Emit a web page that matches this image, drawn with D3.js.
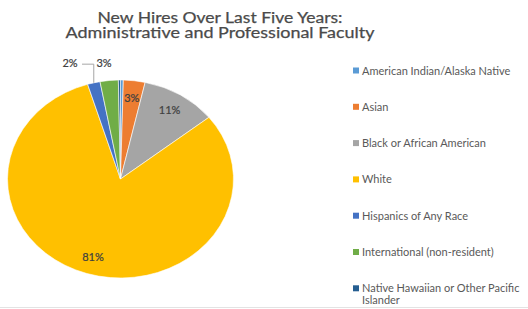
<!DOCTYPE html>
<html><head><meta charset="utf-8">
<script src="https://cdn.jsdelivr.net/npm/d3@7"></script>
<style>html,body{margin:0;padding:0;background:#fff;}svg{display:block;}</style>
</head><body>
<svg id="c" width="528" height="309"></svg>
<script>
const titleLines = ["New Hires Over Last Five Years:", "Administrative and Professional Faculty"];
const categories = ["American Indian/Alaska Native", "Asian", "Black or African American", "White", "Hispanics of Any Race", "International (non-resident)", "Native Hawaiian or Other Pacific Islander"];
const values = [0.4, 3.1, 10.8, 81.0, 1.8, 2.6, 0.3];
const colors = ["#5b9bd5", "#ed7d31", "#a5a5a5", "#ffc000", "#4472c4", "#70ad47", "#255e91"];
const insideLabel = [false, true, true, true, false, false, false];
const outsideLabel = [false, false, false, false, true, true, false];

const svg = d3.select("#c");
const W = 528, H = 309;
svg.append("rect").attr("width", W).attr("height", H).attr("fill", "#fff");
svg.append("line").attr("x1", 0).attr("x2", W).attr("y1", 307.5).attr("y2", 307.5).attr("stroke", "#e3e3e3").attr("stroke-width", 1);

// Title (one text element, two lines)
const titleWidths = [245, 309];
const title = svg.append("text")
  .attr("text-anchor", "middle")
  .attr("font-family", "Lato, 'Open Sans', sans-serif")
  .attr("font-size", 15.5).attr("font-weight", 400)
  .attr("fill", "#4a4a4a")
  .attr("stroke", "#4a4a4a").attr("stroke-width", 0.25);
title.selectAll("tspan").data(titleLines).join("tspan")
  .attr("x", 220).attr("y", (d, i) => 23 + i * 15)
  .attr("textLength", (d, i) => titleWidths[i]).attr("lengthAdjust", "spacingAndGlyphs")
  .text(d => d);

// Pie (slightly elliptical, as in reference)
const cx = 120.5, cy = 179, ry = 99, rx = 113;
const sx = rx / ry;
const total = d3.sum(values);
const pie = d3.pie().sort(null).value(d => d)(values);
const arc = d3.arc().innerRadius(0).outerRadius(ry);
const g = svg.append("g").attr("transform", `translate(${cx},${cy}) scale(${sx},1)`);
g.selectAll("path").data(pie).join("path")
  .attr("d", arc).attr("fill", (d, i) => colors[i])
  .attr("stroke", "#fff").attr("stroke-width", 0.6).attr("vector-effect", "non-scaling-stroke");

const fmt = d => Math.round(d / total * 100) + "%";
const lab = svg.append("g").attr("font-family", "Lato, 'Open Sans', sans-serif")
  .attr("font-size", 11).attr("font-weight", 400).attr("fill", "#404040")
  .attr("stroke", "#404040").attr("stroke-width", 0.2);

// inside labels
const inArc = d3.arc().innerRadius(ry * 0.82).outerRadius(ry * 0.82);
pie.forEach((p, i) => {
  if (!insideLabel[i]) return;
  const [x, y] = inArc.centroid(p);
  lab.append("text").attr("x", cx + x * sx).attr("y", cy + y + 4)
    .attr("text-anchor", "middle").text(fmt(p.value));
});

// outside labels (with simple overlap avoidance, leftwards)
const outs = [];
pie.forEach((p, i) => {
  if (!outsideLabel[i]) return;
  const a = (p.startAngle + p.endAngle) / 2;
  outs.push({ p, i, a, x: cx + Math.sin(a) * rx * 1.1 - 4, y: cy - ry * 1.17 });
});
outs.sort((u, v) => v.a - u.a);
const lw = 18, gap = 16;
for (let k = 1; k < outs.length; k++) {
  const prev = outs[k - 1];
  if (outs[k].x + lw / 2 + gap > prev.x - lw / 2) {
    outs[k].moved = true;
    outs[k].x = prev.x - lw - gap;
  }
}
outs.forEach(o => {
  lab.append("text").attr("x", o.x).attr("y", o.y + 4).attr("text-anchor", "middle").text(fmt(o.p.value));
  if (o.moved) {
    const ex = cx + Math.sin(o.a) * rx, ey = cy - Math.cos(o.a) * ry;
    svg.append("path")
      .attr("d", `M${o.x + lw / 2 + 3},${o.y + 1}H${ex}V${ey}`)
      .attr("fill", "none").attr("stroke", "#a6a6a6").attr("stroke-width", 1);
  }
});

// Legend
const lg = svg.append("g").attr("font-family", "Lato, 'Open Sans', sans-serif").attr("font-size", 11).attr("fill", "#595959");
const item = lg.selectAll("g").data(categories).join("g")
  .attr("transform", (d, i) => `translate(353,${71 + i * 36.3})`);
item.append("rect").attr("x", 0).attr("y", -3.5).attr("width", 6).attr("height", 6).attr("fill", (d, i) => colors[i]);
item.each(function (d) {
  const words = d.split(" ");
  const t = d3.select(this).append("text").attr("x", 9).attr("y", 3.5);
  if (d.length > 32) {
    t.append("tspan").attr("x", 9).attr("dy", 0).text(words.slice(0, 5).join(" "));
    t.append("tspan").attr("x", 9).attr("dy", 12).text(words.slice(5).join(" "));
  } else t.text(d);
});
</script>
</body></html>
